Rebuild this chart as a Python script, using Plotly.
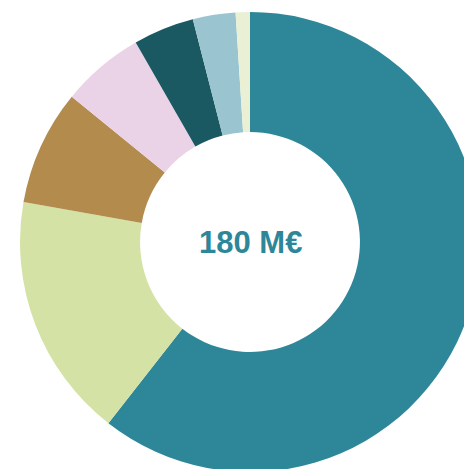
import plotly.graph_objects as go

labels = ["A", "B", "C", "D", "E", "F", "G"]
values = [109.0, 31.0, 14.6, 10.5, 7.7, 5.4, 1.8]
colors = ["#2E8799", "#D4E2A6", "#B38B4D", "#EAD3E6", "#1B5962", "#9AC4CF", "#E9F0D4"]
center_text = "180 M€"

fig = go.Figure(go.Pie(
    labels=labels, values=values, hole=0.478, sort=False,
    direction="clockwise", rotation=0,
    marker=dict(colors=colors, line=dict(width=0)),
    textinfo="none", hoverinfo="none",
))
fig.add_annotation(text=f"<b>{center_text}</b>", x=0.5, y=0.5, xref="paper", yref="paper",
                   showarrow=False,
                   font=dict(family="Liberation Sans", size=31, color="#2E8799"))
fig.update_layout(width=500, height=484, margin=dict(l=20, r=20, t=12, b=12),
                  showlegend=False, paper_bgcolor="white", plot_bgcolor="white")
fig.write_html("out.html", config={"displayModeBar": False},
               post_script="document.body.style.margin='0';document.body.style.overflow='hidden';document.documentElement.style.overflow='hidden';")
